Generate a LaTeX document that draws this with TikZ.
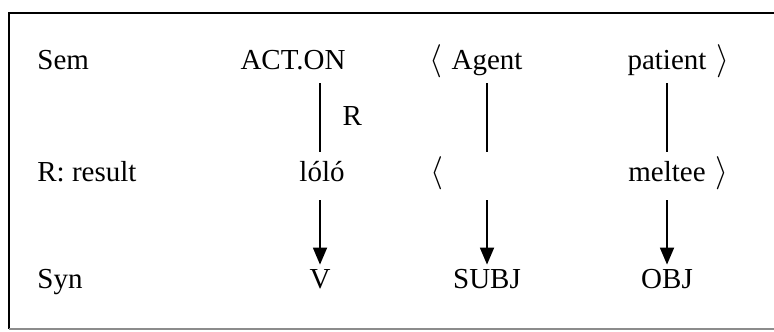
\documentclass[tikz,border=0pt]{standalone}
\usepackage{fontspec}
\setmainfont{Liberation Serif}
\usetikzlibrary{arrows.meta}
\tikzset{
  cell/.style={inner sep=0pt, text height=10pt, text depth=3pt, anchor=base,
    font=\fontsize{14.5}{17}\selectfont},
  brack/.style={cell, scale=1.15},
  link/.style={line width=0.7pt, shorten <=3.5pt, shorten >=5pt},
  map/.style={line width=0.9pt, -{Triangle[width=7pt,length=8.5pt]},
    shorten <=6pt, shorten >=1.5pt},
}
\begin{document}
\begin{tikzpicture}[x=0.5pt, y=-0.5pt]
            \useasboundingbox (0, 0) rectangle (774, 331);
            
            % Frame
            \draw[line width=1pt] (780, 13) -- (9, 13) -- (9, 329);
            \draw[line width=0.8pt, black!45] (9, 329) -- (780, 329);
            
            % Row labels
            \node[cell, anchor=base west] (sem) at (37, 70) {Sem};
            \node[cell, anchor=base west] (res) at (37, 182) {R: result};
            \node[cell, anchor=base west] (syn) at (37, 288) {Syn};
            
            % Sem row
            \node[cell] (act) at (293, 70) {ACT.ON};
            \node[brack] (lb1) at (436, 70) {$\langle$};
            \node[cell] (agent) at (487, 70) {Agent};
            \node[cell] (pat) at (667, 70) {patient};
            \node[brack] (rb1) at (723, 70) {$\rangle$};
            
            % Result row
            \node[cell] (lolo) at (322, 182) {lóló};
            \node[brack] (lb2) at (437, 182) {$\langle$};
            \node[cell] (agt2) at (487, 182) {};
            \node[cell] (mel) at (667, 182) {meltee};
            \node[brack] (rb2) at (722, 182) {$\rangle$};
            
            % Syn row
            \node[cell] (v) at (320, 288) {V};
            \node[cell] (subj) at (487, 288) {SUBJ};
            \node[cell] (obj) at (667, 288) {OBJ};
            
            % Links
            \draw[link] (act.south -| v.north) -- (lolo.north -| v.north)
                node[cell, midway, right=11pt, anchor=west] {R};
            \draw[link] (agent.south) -- (agt2.north);
            \draw[link] (pat.south) -- (mel.north);
            
            % Mappings
            \draw[map] (lolo.south -| v.north) -- (v.north);
            \draw[map] (agt2.south) -- (subj.north);
            \draw[map] (mel.south) -- (obj.north);
            
\end{tikzpicture}
\end{document}
